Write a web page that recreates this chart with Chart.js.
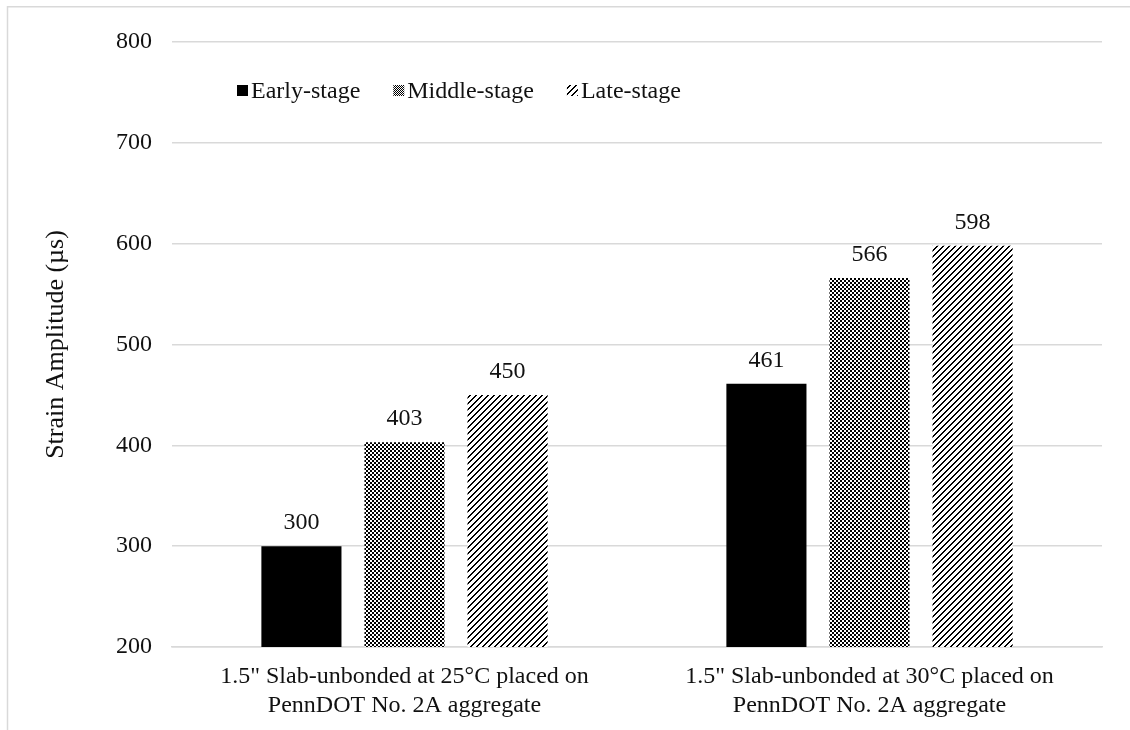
<!DOCTYPE html>
<html>
<head>
<meta charset="utf-8">
<script src="https://cdn.jsdelivr.net/npm/chart.js@4/dist/chart.umd.min.js"></script>
<style>
html,body{margin:0;padding:0;background:#fff;}
#wrap{width:1130px;height:730px;}
</style>
</head>
<body>
<div id="wrap"><canvas id="c" width="1130" height="730"></canvas></div>
<script>
// ---- data ----
const categories = [
  ['1.5" Slab-unbonded at 25°C placed on', 'PennDOT No. 2A aggregate'],
  ['1.5" Slab-unbonded at 30°C placed on', 'PennDOT No. 2A aggregate']
];
const seriesNames = ['Early-stage', 'Middle-stage', 'Late-stage'];
const earlyStage = [300, 461];
const middleStage = [403, 566];
const lateStage = [450, 598];
const yTicks = [200, 300, 400, 500, 600, 700, 800];
const yAxisTitle = 'Strain Amplitude (µs)';

const FONT = '"Liberation Serif", "Times New Roman", serif';
const FS = 24;
const TITLE_FS = 26;

// ---- patterns ----
function makePattern(size, fn) {
  const c = document.createElement('canvas');
  c.width = size; c.height = size;
  const g = c.getContext('2d');
  g.fillStyle = '#fff';
  g.fillRect(0, 0, size, size);
  g.fillStyle = '#000';
  for (let y = 0; y < size; y++) for (let x = 0; x < size; x++) if (fn(x, y)) g.fillRect(x, y, 1, 1);
  return g.createPattern(c, 'repeat');
}
const checker = makePattern(4, (x, y) => ((Math.floor(x / 2) + Math.floor(y / 2)) % 2) === 0);
const checkerSmall = makePattern(2, (x, y) => ((x + y) % 2) === 0);
const diag = makePattern(6, (x, y) => ((x + y) % 6) < 2);
const fills = ['#000000', checker, diag];
const legendFills = ['#000000', checkerSmall, diag];

const borderPlugin = {
  id: 'outerBorder',
  beforeDraw(chart) {
    const c = chart.ctx;
    c.save();
    c.strokeStyle = '#d9d9d9';
    c.lineWidth = 1.5;
    c.beginPath();
    c.moveTo(7.5, 800); c.lineTo(7.5, 6.75); c.lineTo(1200, 6.75);
    c.stroke();
    c.restore();
  }
};

const valueLabels = {
  id: 'valueLabels',
  afterDatasetsDraw(chart) {
    const c = chart.ctx;
    c.save();
    c.font = FS + 'px ' + FONT;
    c.fillStyle = '#111';
    c.textAlign = 'center';
    c.textBaseline = 'alphabetic';
    chart.data.datasets.forEach((ds, i) => {
      const meta = chart.getDatasetMeta(i);
      meta.data.forEach((bar, j) => {
        c.fillText(String(ds.data[j]), bar.x, bar.y - 17);
      });
    });
    c.restore();
  }
};

const customLegend = {
  id: 'customLegend',
  afterDraw(chart) {
    const c = chart.ctx;
    c.save();
    c.font = FS + 'px ' + FONT;
    c.textBaseline = 'alphabetic';
    let x = 237;
    const baseY = 98;
    chart.data.datasets.forEach((ds, i) => {
      c.fillStyle = legendFills[i];
      c.fillRect(x, 85, 11, 11);
      x += 14;
      c.fillStyle = '#111';
      c.fillText(ds.label, x, baseY);
      x += c.measureText(ds.label).width + 33;
    });
    c.restore();
  }
};

new Chart(document.getElementById('c'), {
  type: 'bar',
  data: {
    labels: categories,
    datasets: [
      { label: seriesNames[0], data: earlyStage, backgroundColor: fills[0] },
      { label: seriesNames[1], data: middleStage, backgroundColor: fills[1] },
      { label: seriesNames[2], data: lateStage, backgroundColor: fills[2] }
    ]
  },
  options: {
    responsive: false,
    animation: false,
    devicePixelRatio: 1,
    layout: { padding: { top: 42, right: 28, left: 0, bottom: 0 } },
    datasets: { bar: { categoryPercentage: 0.665, barPercentage: 0.777 } },
    plugins: {
      legend: { display: false },
      tooltip: { enabled: false }
    },
    scales: {
      x: {
        grid: { display: false, drawTicks: false },
        border: { display: true, color: '#d9d9d9', width: 1.5 },
        ticks: { color: '#111', font: { family: FONT, size: FS, lineHeight: 1.21 }, padding: 15.5, maxRotation: 0, autoSkip: false },
        afterFit(s) { s.height = 83; }
      },
      y: {
        min: 200, max: 800,
        grid: { color: '#d9d9d9', lineWidth: 1.5, drawTicks: false },
        border: { display: false },
        afterBuildTicks(s) { s.ticks = yTicks.map(v => ({ value: v })); },
        ticks: { color: '#111', font: { family: FONT, size: FS }, padding: 20 },
        title: { display: true, text: yAxisTitle, color: '#111', font: { family: FONT, size: TITLE_FS }, padding: { top: 41, bottom: 0 } },
        afterFit(s) { s.width = 172; }
      }
    }
  },
  plugins: [borderPlugin, valueLabels, customLegend]
});
</script>
</body>
</html>
